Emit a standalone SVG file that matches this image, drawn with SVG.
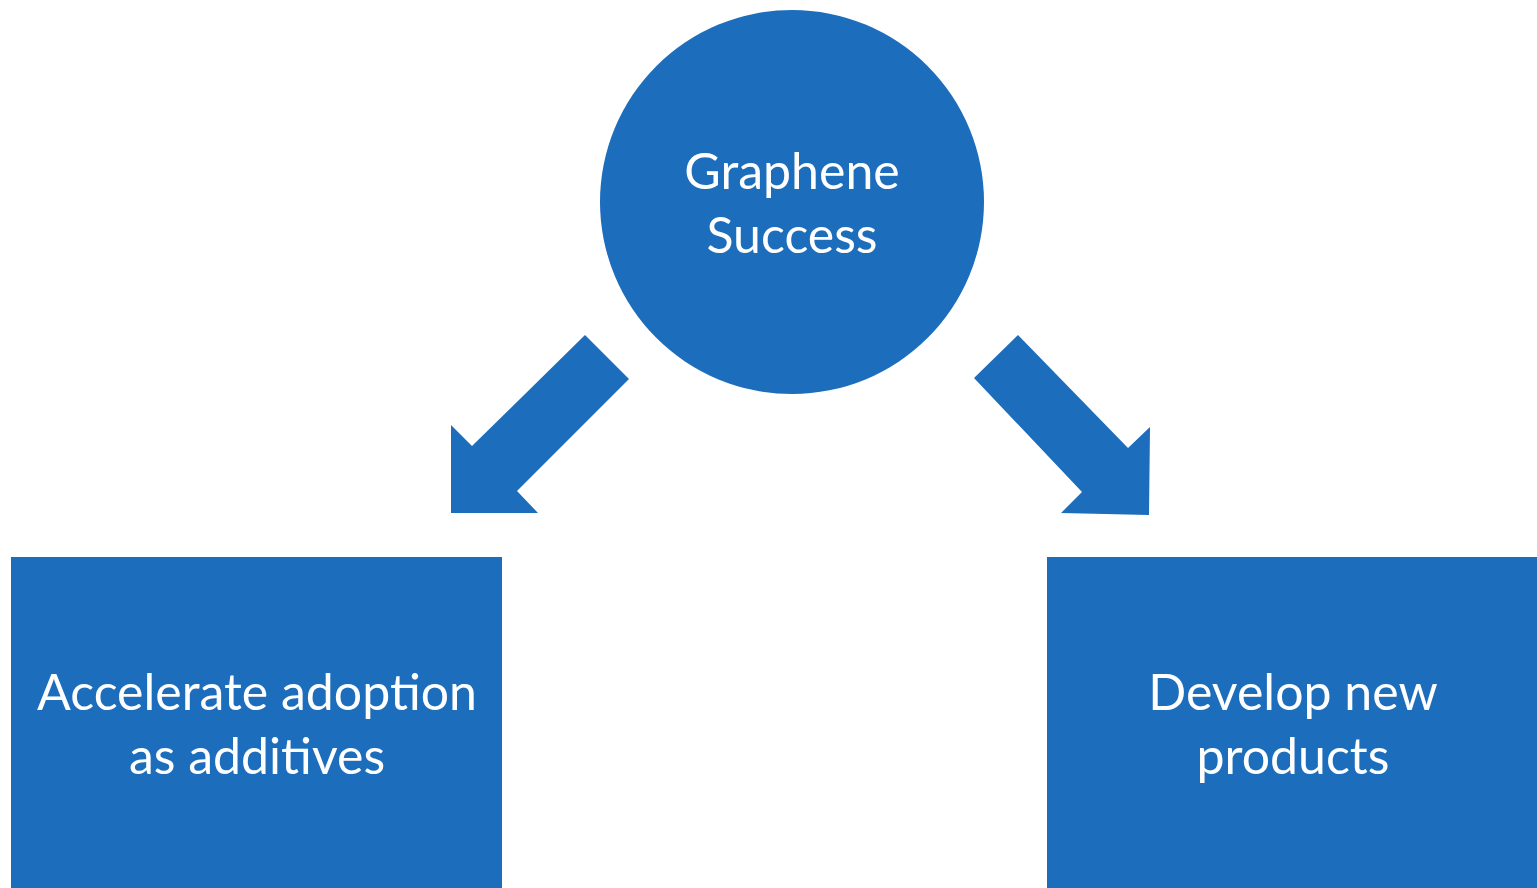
<svg xmlns="http://www.w3.org/2000/svg" width="1537" height="888" viewBox="0 0 1537 888">
<style>
.shape{fill:#1C6DBC;}
.lbl{fill:#FFFFFF;font-family:Lato,"Liberation Sans",sans-serif;font-size:50px;text-anchor:middle;}
</style>
<rect width="1537" height="888" fill="#FFFFFF"/>
<g id="node-graphene">
<circle class="shape" cx="792" cy="202" r="192"/>
<text class="lbl" x="792" y="189">Graphene</text>
<text class="lbl" x="792" y="253">Success</text>
</g>
<g id="connectors">
<polygon class="shape" points="585,335 629,379 517,491 538,513 451,513 451,425 472,446"/>
<polygon class="shape" points="1018,335 974,378 1082,492 1061,513 1149,515 1150,427 1128,448"/>
</g>
<g id="node-additives">
<rect class="shape" x="11" y="557" width="491" height="331"/>
<text class="lbl" x="257" y="710">Accelerate adoption</text>
<text class="lbl" x="257" y="774">as additives</text>
</g>
<g id="node-products">
<rect class="shape" x="1047" y="557" width="490" height="331"/>
<text class="lbl" x="1293" y="710">Develop new</text>
<text class="lbl" x="1293" y="774">products</text>
</g>
</svg>
